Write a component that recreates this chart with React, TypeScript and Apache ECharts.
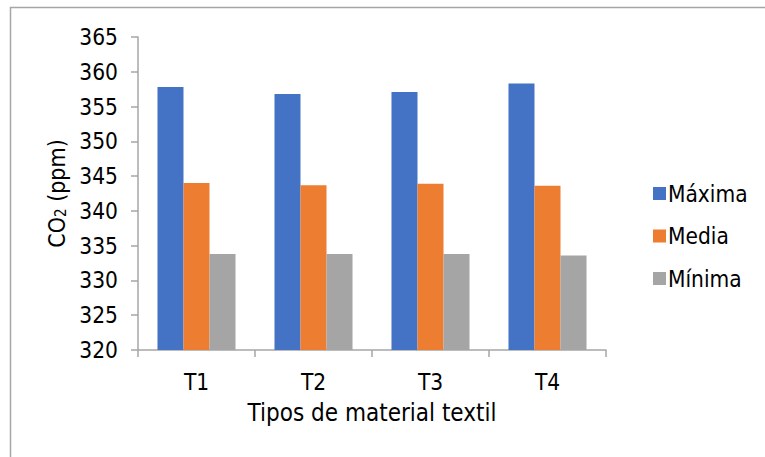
import React, { useEffect, useRef } from "react";
import * as echarts from "echarts";

const categories = ["T1", "T2", "T3", "T4"];
const seriesNames = ["Máxima", "Media", "Mínima"];
const maxima = [357.8, 356.8, 357.1, 358.3];
const media = [344.0, 343.7, 343.9, 343.6];
const minima = [333.8, 333.8, 333.8, 333.6];
const colors = ["#4472C4", "#ED7D31", "#A5A5A5"];

const FONT = "'DejaVu Sans Condensed', 'DejaVu Sans', sans-serif";

export default function App() {
  const ref = useRef<HTMLDivElement>(null);

  useEffect(() => {
    if (!ref.current) return;
    const chart = echarts.init(ref.current, undefined, { renderer: "svg" });
    const values = [maxima, media, minima];
    chart.setOption({
      animation: false,
      backgroundColor: "#ffffff",
      textStyle: { fontFamily: FONT, color: "#000" },
      grid: { left: 138, right: 159, top: 37, bottom: 107, containLabel: false },
      legend: {
        orient: "vertical",
        left: 648,
        top: 177,
        itemWidth: 13,
        itemHeight: 13,
        itemGap: 19.5,
        icon: "rect",
        textStyle: { fontFamily: FONT, fontSize: 22.5, color: "#000", padding: [0, 0, 0, -3] },
        data: seriesNames,
      },
      graphic: [
        {
          type: "rect",
          shape: { x: 10.5, y: 7.5, width: 800, height: 500 },
          style: { fill: "none", stroke: "#a6a6a6", lineWidth: 1.5 },
          silent: true,
        },
      ],
      xAxis: {
        type: "category",
        data: categories,
        name: "Tipos de material textil",
        nameLocation: "middle",
        nameGap: 51,
        nameTextStyle: { fontFamily: FONT, fontSize: 24, color: "#000" },
        axisLine: { lineStyle: { color: "#a6a6a6", width: 1.5 } },
        axisTick: { show: true, length: 7, lineStyle: { color: "#a6a6a6", width: 1.5 } },
        axisLabel: { fontFamily: FONT, fontSize: 22.5, color: "#000", margin: 20 },
      },
      yAxis: {
        type: "value",
        min: 320,
        max: 365,
        interval: 5,
        name: "CO{sub|2} (ppm)",
        nameLocation: "middle",
        nameGap: 65,
        nameRotate: 90,
        nameTextStyle: {
          fontFamily: FONT,
          fontSize: 23,
          color: "#000",
          rich: {
            sub: { fontFamily: FONT, fontSize: 15, color: "#000", verticalAlign: "bottom", lineHeight: 15, padding: [11, 0, 0, 0] },
          },
        },
        splitLine: { show: false },
        axisLine: { show: true, lineStyle: { color: "#a6a6a6", width: 1.5 } },
        axisTick: { show: true, length: 7, lineStyle: { color: "#a6a6a6", width: 1.5 } },
        axisLabel: { fontFamily: FONT, fontSize: 22.5, color: "#000", margin: 20 },
      },
      series: seriesNames.map((name, i) => ({
        name,
        type: "bar",
        data: values[i],
        barGap: "0%",
        barCategoryGap: "33.3%",
        itemStyle: { color: colors[i] },
      })),
    });
    return () => chart.dispose();
  }, []);

  return (
    <div
      ref={ref}
      style={{ position: "fixed", left: 0, top: 0, width: 765, height: 457 }}
    />
  );
}
